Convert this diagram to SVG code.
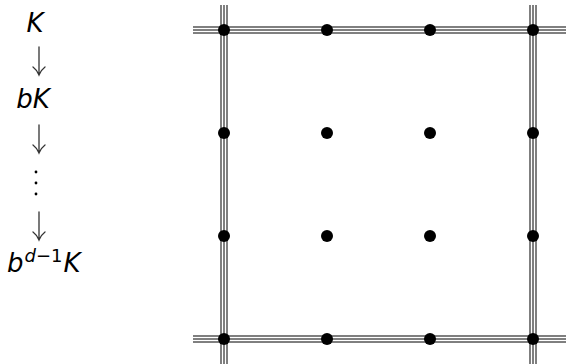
<svg xmlns="http://www.w3.org/2000/svg" width="566" height="364" viewBox="0 0 566 364">
<style>
.t{font-family:"DejaVu Sans",sans-serif;font-style:italic;font-size:26px;fill:#000}
.s{font-size:18px}
.u{font-style:normal}
.o{stroke:#000;stroke-width:7;fill:none}
.w{stroke:#fff;stroke-width:5;fill:none}
.c{stroke:#000;stroke-width:1;fill:none}
.ar{stroke:#333;stroke-width:1.3;fill:none;stroke-linecap:round}
.d{fill:#000}
</style>
<rect width="566" height="364" fill="#fff"/>
<g id="labels">
<text class="t" x="35" y="32" text-anchor="middle">K</text>
<text class="t" x="33" y="108" text-anchor="middle">bK</text>
<text class="t" x="7" y="272">b<tspan class="s" dx="1" dy="-10">d<tspan class="u">−1</tspan></tspan><tspan dx="1" dy="10">K</tspan></text>
<circle cx="36" cy="172" r="1.4" class="d"/>
<circle cx="36" cy="183" r="1.4" class="d"/>
<circle cx="36" cy="194" r="1.4" class="d"/>
</g>
<g id="arrows">
<path class="ar" d="M39 47V74M33 67Q37 70 39 75Q41 70 45 67"/>
<path class="ar" d="M39 125V152M33 145Q37 148 39 153Q41 148 45 145"/>
<path class="ar" d="M39 212V239M33 232Q37 235 39 240Q41 235 45 232"/>
</g>
<g id="connectors">
<path class="o" d="M193 30H566M193 339H566M224 5V364M533 5V364"/>
<path class="w" d="M193 30H566M193 339H566M224 5V364M533 5V364"/>
<path class="c" d="M193 30H566M193 339H566M224 5V364M533 5V364"/>
</g>
<g id="nodes" class="d">
<circle id="n00" cx="224" cy="30" r="6"/>
<circle id="n10" cx="327" cy="30" r="6"/>
<circle id="n20" cx="430" cy="30" r="6"/>
<circle id="n30" cx="533" cy="30" r="6"/>
<circle id="n01" cx="224" cy="133" r="6"/>
<circle id="n11" cx="327" cy="133" r="6"/>
<circle id="n21" cx="430" cy="133" r="6"/>
<circle id="n31" cx="533" cy="133" r="6"/>
<circle id="n02" cx="224" cy="236" r="6"/>
<circle id="n12" cx="327" cy="236" r="6"/>
<circle id="n22" cx="430" cy="236" r="6"/>
<circle id="n32" cx="533" cy="236" r="6"/>
<circle id="n03" cx="224" cy="339" r="6"/>
<circle id="n13" cx="327" cy="339" r="6"/>
<circle id="n23" cx="430" cy="339" r="6"/>
<circle id="n33" cx="533" cy="339" r="6"/>
</g>
</svg>
